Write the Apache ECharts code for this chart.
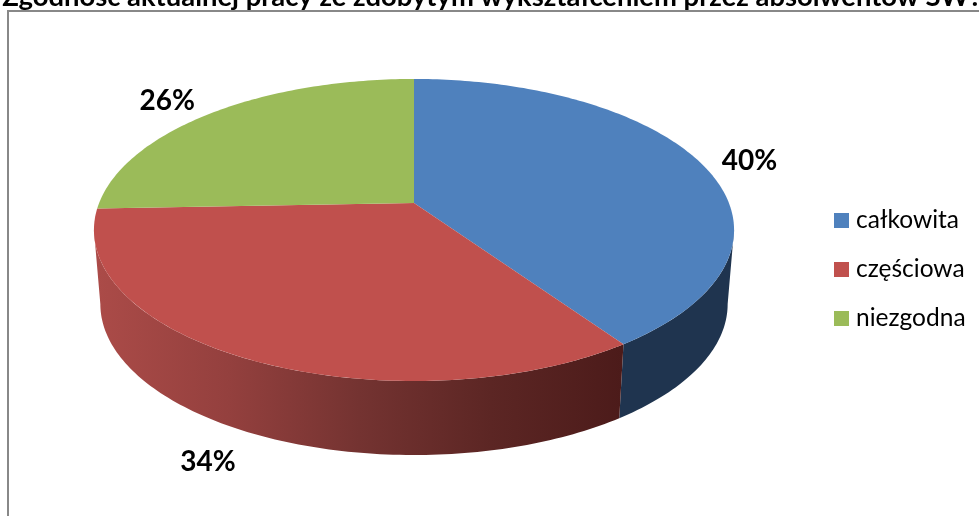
<!DOCTYPE html>
<html><head><meta charset="utf-8">
<script src="https://cdn.jsdelivr.net/npm/echarts@6/dist/echarts.min.js"></script>
<style>html,body{margin:0;padding:0;background:#fff}#c{width:979px;height:516px}</style>
</head><body><div id="c"></div>
<script>
const titleText = 'Zgodność aktualnej pracy ze zdobytym wykształceniem przez absolwentów SW?';
const categories = ['całkowita', 'częściowa', 'niezgodna'];
const values = [40.4, 34, 25.6];

const FONT = 'Lato, Carlito, "Open Sans", sans-serif';
const topColors = ['#4f81bd', '#c0504d', '#9bbb59'];
const CX = 414, CY = 203, K = 0.1788, RX = 314.9, RY = 146.2;
const DEPTH = 74, BOTTOM_SHRINK = 0.98;
const labelOffsets = [[50, -1], [-38, 103], [-45, -12]];

const total = values.reduce((a, b) => a + b, 0);
const EDGE = 180 - Math.acos(K) * 180 / Math.PI; // angle of the rim's widest point
function project(deg) {
  const a = deg * Math.PI / 180, X = Math.sin(a), Z = -Math.cos(a), w = 1 - K * Z;
  return [CX + RX * X / w, CY + RY * Z / w];
}
function lower(p) { return [CX + (p[0] - CX) * BOTTOM_SHRINK, p[1] + DEPTH]; }
function arcPoints(a0, a1) {
  const pts = [], n = Math.max(2, Math.ceil(a1 - a0));
  for (let i = 0; i <= n; i++) pts.push(project(a0 + (a1 - a0) * i / n));
  return pts;
}
const sideFills = [
  '#1f344f',
  new echarts.graphic.LinearGradient(97, 0, 622, 0, [
    { offset: 0, color: '#ab4b48' }, { offset: 0.25, color: '#94403e' },
    { offset: 0.5, color: '#743331' }, { offset: 0.75, color: '#5c2624' },
    { offset: 1, color: '#4c1b1a' }], true),
  '#6f8c3f'
];
function makeRender(idx) {
  return function (params, api) {
    const v = api.value(0);
    const before = values.slice(0, idx).reduce((a, b) => a + b, 0);
    const a0 = before / total * 360, a1 = (before + v) / total * 360;
    const rim = arcPoints(a0, a1);
    const mid = project((a0 + a1) / 2);
    const s0 = Math.max(a0, EDGE), s1 = Math.min(a1, 360 - EDGE);
    const children = [];
    if (s1 > s0) {
      const sr = arcPoints(s0, s1);
      children.push({ type: 'polygon', z2: 1, silent: true,
        shape: { points: sr.concat(sr.map(lower).reverse()) },
        style: { fill: sideFills[idx] } });
    }
    children.push(
      { type: 'polygon', z2: 2, silent: true,
        shape: { points: [[CX, CY]].concat(rim) },
        style: { fill: topColors[idx] } },
      { type: 'text', z2: 3, silent: true,
        x: mid[0] + labelOffsets[idx][0], y: mid[1] + labelOffsets[idx][1],
        style: { text: Math.round(v / total * 100) + '%', fill: '#000', align: 'center',
                 verticalAlign: 'middle', font: 'bold 28px ' + FONT } });
    return { type: 'group', children };
  };
}
const chart = echarts.init(document.getElementById('c'), null, { renderer: 'canvas' });
chart.setOption({
  animation: false,
  backgroundColor: '#fff',
  title: { text: titleText, left: 487, top: -21, textAlign: 'center',
    textStyle: { fontFamily: FONT, fontWeight: 'bold', fontSize: 27.4, color: '#000' } },
  legend: {
    orient: 'vertical', left: 834, top: 208, padding: 0, itemWidth: 15, itemHeight: 15, itemGap: 24,
    icon: 'rect', selectedMode: false, data: categories,
    textStyle: { fontFamily: FONT, fontSize: 24.5, lineHeight: 15, color: '#000', padding: [0, 0, 0, 2] }
  },
  graphic: [{ type: 'polyline', silent: true, z: 10,
    shape: { points: [[8, 516], [8, 11], [979, 11]] },
    style: { stroke: '#888', lineWidth: 2, fill: 'none' } }],
  series: categories.map((name, i) => ({
    type: 'custom', name, coordinateSystem: 'none', silent: true,
    itemStyle: { color: topColors[i] },
    renderItem: makeRender(i), data: [[values[i]]]
  }))
});
</script></body></html>
